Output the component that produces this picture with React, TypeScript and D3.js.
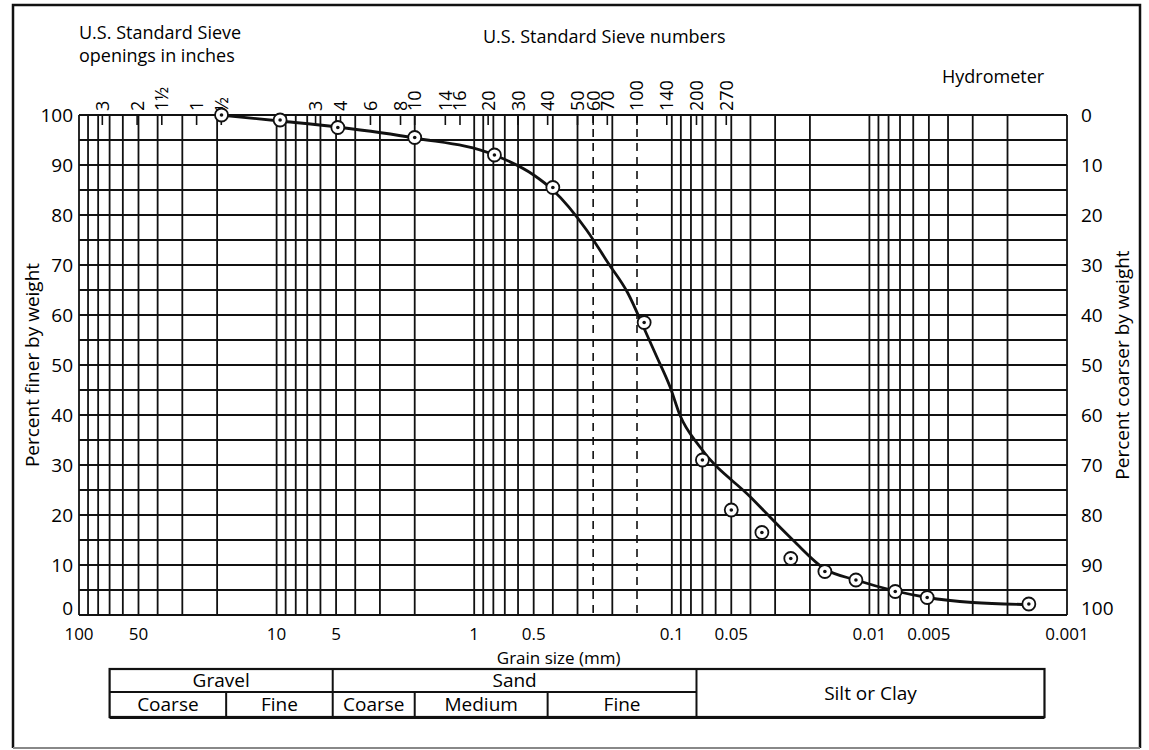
import React, { useEffect, useRef } from "react";
import * as d3 from "d3";

// measured points: grain size (mm) and percent finer by weight
const sampleSizes = [19, 9.6, 4.9, 2.0, 0.79, 0.4, 0.138, 0.07, 0.05, 0.035, 0.025, 0.0168, 0.0117, 0.0074, 0.0051, 0.00156];
const samplePercent = [100, 99, 97.5, 95.5, 92, 85.5, 58.5, 31, 21, 16.5, 11.3, 8.7, 7, 4.7, 3.5, 2.2];

// hand-drawn fitted curve
const curveSizes = [19.3, 9.6, 4.95, 2.0, 0.79, 0.5, 0.4, 0.27, 0.21, 0.167, 0.137, 0.119, 0.102, 0.091, 0.072, 0.04, 0.0244, 0.0168, 0.0117, 0.0074, 0.0051, 0.003, 0.00156];
const curvePercent = [100, 98.8, 97.6, 95.4, 92, 88, 85, 77, 70.4, 64.4, 57, 51.6, 45.6, 40, 33.6, 23.6, 15, 9.2, 7, 4.8, 3.5, 2.5, 2.1];

// top labels: sieve openings (inches) and sieve numbers, with their size in mm
const inchLabels = ["3", "2", "1½", "1", "½"];
const inchSizes = [76.2, 50.8, 38.1, 25.4, 19.05];
const sieveLabels = ["3", "4", "6", "8", "10", "14", "16", "20", "30", "40", "50", "60", "70", "100", "140", "200", "270"];
const sieveSizes = [6.35, 4.75, 3.35, 2.36, 2.0, 1.4, 1.18, 0.85, 0.6, 0.425, 0.3, 0.25, 0.212, 0.15, 0.106, 0.075, 0.053];

// dashed reference lines
const dashedSizes = [0.25, 0.15];

// bottom axis labels
const grainTicks = [100, 50, 10, 5, 1, 0.5, 0.1, 0.05, 0.01, 0.005, 0.001];
const grainTickLabels = ["100", "50", "10", "5", "1", "0.5", "0.1", "0.05", "0.01", "0.005", "0.001"];

// classification table column edges (mm)
const classEdges = [70, 18, 5.2, 2.0, 0.425, 0.075, 0.0013];
const majorClasses = ["Gravel", "Sand"];
const majorSpans = [[0, 2], [2, 5]];
const minorClasses = ["Coarse", "Fine", "Coarse", "Medium", "Fine"];

const FONT = "'Open Sans', 'DejaVu Sans', sans-serif";

const GrainSizeChart: React.FC = () => {
  const svgRef = useRef<SVGSVGElement>(null);

  useEffect(() => {
    if (!svgRef.current) return;
    const width = 1149;
    const height = 750;
    const m = { top: 115, right: 82, bottom: 135, left: 79 };
    const x0 = m.left;
    const x1 = width - m.right;
    const y0 = m.top;
    const y1 = height - m.bottom;

    const svg = d3.select(svgRef.current);
    svg.selectAll("*").remove();
    svg.attr("width", width).attr("height", height);

    svg.append("rect").attr("width", width).attr("height", height).attr("fill", "#fff");

    const x = d3.scaleLog().domain([100, 0.001]).range([x0, x1]);
    const y = d3.scaleLinear().domain([0, 100]).range([y1, y0]);

    // outer frame
    svg.append("path")
      .attr("d", `M13,748 L13,5 L1140,5 L1140,748`)
      .attr("fill", "none")
      .attr("stroke", "#111")
      .attr("stroke-width", 2.5);
    svg.append("line")
      .attr("x1", 13).attr("x2", 1140).attr("y1", 748).attr("y2", 748)
      .attr("stroke", "#888").attr("stroke-width", 2);

    const grid = svg.append("g").attr("stroke", "#111");

    // vertical log grid
    grid.selectAll("line.v")
      .data(x.ticks())
      .join("line")
      .attr("class", "v")
      .attr("x1", (d) => x(d)).attr("x2", (d) => x(d))
      .attr("y1", y0).attr("y2", y1)
      .attr("stroke-width", 1.8);

    // horizontal grid every 5 %
    grid.selectAll("line.h")
      .data(y.ticks(20))
      .join("line")
      .attr("class", "h")
      .attr("x1", x0).attr("x2", x1)
      .attr("y1", (d) => y(d)).attr("y2", (d) => y(d))
      .attr("stroke-width", 1.8);

    // short sieve ticks at top
    grid.selectAll("line.s")
      .data([...inchSizes, ...sieveSizes])
      .join("line")
      .attr("class", "s")
      .attr("x1", (d) => x(d)).attr("x2", (d) => x(d))
      .attr("y1", y0).attr("y2", y0 + 10)
      .attr("stroke-width", 1.6);

    // dashed lines
    grid.selectAll("line.d")
      .data(dashedSizes)
      .join("line")
      .attr("class", "d")
      .attr("x1", (d) => x(d)).attr("x2", (d) => x(d))
      .attr("y1", y0).attr("y2", y1)
      .attr("stroke-width", 1.6)
      .attr("stroke-dasharray", "8,6");

    // left and right axes text
    const leftTicks = d3.range(0, 101, 10);
    svg.append("g")
      .selectAll("text")
      .data(leftTicks)
      .join("text")
      .attr("x", x0 - 6)
      .attr("y", (d) => y(d) - (d === 0 ? 7 : 0))
      .attr("dy", "0.36em")
      .attr("text-anchor", "end")
      .style("font-family", FONT)
      .style("font-size", "19px")
      .text((d) => d);

    svg.append("g")
      .selectAll("text")
      .data(leftTicks)
      .join("text")
      .attr("x", x1 + 14)
      .attr("y", (d) => y(d) - (d === 0 ? 7 : 0))
      .attr("dy", "0.36em")
      .attr("text-anchor", "start")
      .style("font-family", FONT)
      .style("font-size", "19px")
      .text((d) => 100 - d);

    // bottom axis labels
    svg.append("g")
      .selectAll("text")
      .data(grainTicks)
      .join("text")
      .attr("x", (d) => x(d))
      .attr("y", y1 + 25)
      .attr("text-anchor", "middle")
      .style("font-family", FONT)
      .style("font-size", "17px")
      .text((_, i) => grainTickLabels[i]);

    svg.append("text")
      .attr("x", x(0.5) + 25)
      .attr("y", y1 + 49)
      .attr("text-anchor", "middle")
      .style("font-family", FONT)
      .style("font-size", "17px")
      .text("Grain size (mm)");

    // rotated sieve labels on top
    const topLabels = [
      ...inchLabels.map((l, i) => ({ l, s: inchSizes[i] })),
      ...sieveLabels.map((l, i) => ({ l, s: sieveSizes[i] })),
    ];
    svg.append("g")
      .selectAll("text")
      .data(topLabels)
      .join("text")
      .attr("transform", (d) => `translate(${x(d.s)},${y0 - 4}) rotate(-90)`)
      .attr("dy", "0.36em")
      .attr("text-anchor", "start")
      .style("font-family", FONT)
      .style("font-size", "18px")
      .text((d) => d.l);

    // header texts
    const header = svg.append("g").style("font-family", FONT).style("font-size", "18px");
    header.append("text").attr("x", 79).attr("y", 39).text("U.S. Standard Sieve");
    header.append("text").attr("x", 79).attr("y", 62).text("openings in inches");
    header.append("text").attr("x", 483).attr("y", 43).text("U.S. Standard Sieve numbers");
    header.append("text").attr("x", 942).attr("y", 83).text("Hydrometer");

    // axis titles
    svg.append("text")
      .attr("transform", `translate(32,${(y0 + y1) / 2}) rotate(-90)`)
      .attr("text-anchor", "middle")
      .attr("dy", "0.36em")
      .style("font-family", FONT)
      .style("font-size", "19px")
      .text("Percent finer by weight");

    svg.append("text")
      .attr("transform", `translate(1122,${(y0 + y1) / 2}) rotate(-90)`)
      .attr("text-anchor", "middle")
      .attr("dy", "0.36em")
      .style("font-family", FONT)
      .style("font-size", "19px")
      .text("Percent coarser by weight");

    // fitted curve
    const pts: [number, number][] = curveSizes.map((s, i) => [s, curvePercent[i]]);
    const line = d3
      .line<[number, number]>()
      .x((d) => x(d[0]))
      .y((d) => y(d[1]))
      .curve(d3.curveMonotoneX);
    svg.append("path")
      .datum(pts)
      .attr("d", line)
      .attr("fill", "none")
      .attr("stroke", "#111")
      .attr("stroke-width", 2.8);

    // sample markers
    const marks = svg.append("g");
    const samples = sampleSizes.map((s, i) => ({ s, p: samplePercent[i] }));
    marks.selectAll("circle.o")
      .data(samples)
      .join("circle")
      .attr("class", "o")
      .attr("cx", (d) => x(d.s))
      .attr("cy", (d) => y(d.p))
      .attr("r", 6.5)
      .attr("fill", "#fff")
      .attr("stroke", "#111")
      .attr("stroke-width", 1.8);
    marks.selectAll("circle.c")
      .data(samples)
      .join("circle")
      .attr("class", "c")
      .attr("cx", (d) => x(d.s))
      .attr("cy", (d) => y(d.p))
      .attr("r", 1.8)
      .attr("fill", "#111");

    // classification table
    const tTop = 669;
    const tMid = 692;
    const tBot = 717;
    const table = svg.append("g").style("font-family", FONT).style("font-size", "19px");
    const tl = x(classEdges[0]);
    const tr = x(classEdges[classEdges.length - 1]);
    table.append("rect")
      .attr("x", tl).attr("y", tTop)
      .attr("width", tr - tl).attr("height", tBot - tTop)
      .attr("fill", "none").attr("stroke", "#111").attr("stroke-width", 2.2);
    table.append("line")
      .attr("x1", tl).attr("x2", x(classEdges[5]))
      .attr("y1", tMid).attr("y2", tMid)
      .attr("stroke", "#111").attr("stroke-width", 2);
    table.append("line")
      .attr("x1", tl).attr("x2", tr)
      .attr("y1", tBot + 1).attr("y2", tBot + 1)
      .attr("stroke", "#111").attr("stroke-width", 2);
    // full-height dividers
    [2, 5].forEach((i) => {
      table.append("line")
        .attr("x1", x(classEdges[i])).attr("x2", x(classEdges[i]))
        .attr("y1", tTop).attr("y2", tBot)
        .attr("stroke", "#111").attr("stroke-width", 2);
    });
    // lower row dividers
    [1, 3, 4].forEach((i) => {
      table.append("line")
        .attr("x1", x(classEdges[i])).attr("x2", x(classEdges[i]))
        .attr("y1", tMid).attr("y2", tBot)
        .attr("stroke", "#111").attr("stroke-width", 2);
    });
    majorClasses.forEach((name, i) => {
      const [a, b] = majorSpans[i];
      table.append("text")
        .attr("x", (x(classEdges[a]) + x(classEdges[b])) / 2)
        .attr("y", tTop + 18)
        .attr("text-anchor", "middle")
        .text(name);
    });
    minorClasses.forEach((name, i) => {
      table.append("text")
        .attr("x", (x(classEdges[i]) + x(classEdges[i + 1])) / 2)
        .attr("y", tMid + 19)
        .attr("text-anchor", "middle")
        .text(name);
    });
    table.append("text")
      .attr("x", (x(classEdges[5]) + tr) / 2)
      .attr("y", (tTop + tBot) / 2)
      .attr("dy", "0.36em")
      .attr("text-anchor", "middle")
      .text("Silt or Clay");
  }, []);

  return <svg ref={svgRef} style={{ position: "absolute", left: 0, top: 0, display: "block" }} />;
};

export default function App() {
  return (
    <div>
      <style>{"body{margin:0;overflow:hidden}"}</style>
      <GrainSizeChart />
    </div>
  );
}
